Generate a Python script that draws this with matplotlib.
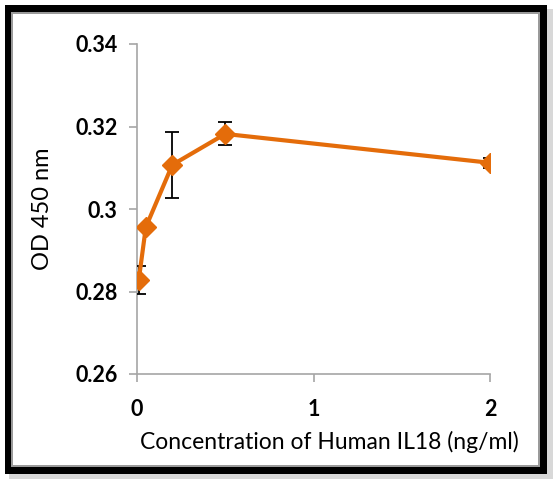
import matplotlib
matplotlib.use("Agg")
import matplotlib.pyplot as plt
from matplotlib.patches import Rectangle

conc = [0.01, 0.05, 0.2, 0.5, 2.0]
od = [0.2828, 0.2956, 0.3107, 0.3182, 0.3112]
od_err = [0.0035, 0.0, 0.0080, 0.0028, 0.0012]
y_ticks = [0.26, 0.28, 0.30, 0.32, 0.34]
y_tick_labels = ["0.26", "0.28", "0.3", "0.32", "0.34"]
x_ticks = [0, 1, 2]

ORANGE = "#E46C0A"

plt.rcParams["font.family"] = ["Lato", "DejaVu Sans"]

fig = plt.figure(figsize=(5.57, 4.82), dpi=100)
W, H = 557, 482


def px_rect(x0, y0, x1, y1, **kw):
    # rectangle in pixel coords (top-left origin)
    return Rectangle((x0 / W, 1 - y1 / H), (x1 - x0) / W, (y1 - y0) / H,
                     transform=fig.transFigure, **kw)


# frame: soft shadow, thick black border, thin gray inner line
fig.patches.append(px_rect(9, 9, 553, 479, facecolor="#d8d8d8", edgecolor="none", zorder=0))
fig.patches.append(px_rect(5, 5, 547, 474, facecolor="black", edgecolor="none", zorder=1))
fig.patches.append(px_rect(11, 12, 540, 467, facecolor="#9a9a9a", edgecolor="none", zorder=2))
fig.patches.append(px_rect(13, 14, 538, 465, facecolor="white", edgecolor="none", zorder=3))

ax = fig.add_axes([137 / W, 1 - 374 / H, (490 - 137) / W, (374 - 44) / H])
ax.set_zorder(5)
ax.patch.set_alpha(0)

ax.errorbar(conc, od, yerr=od_err, color=ORANGE, lw=3, marker="D", ms=10.5,
            mfc=ORANGE, mec=ORANGE, ecolor="black", elinewidth=1.3,
            capsize=5, capthick=1.3, zorder=3)

ax.set_xlim(0, 2)
ax.set_ylim(0.26, 0.34)
ax.set_xticks(x_ticks)
ax.set_xticklabels([str(t) for t in x_ticks])
ax.set_yticks(y_ticks)
ax.set_yticklabels(y_tick_labels)

for side in ["top", "right"]:
    ax.spines[side].set_visible(False)
for side in ["left", "bottom"]:
    ax.spines[side].set_color("#a6a6a6")
    ax.spines[side].set_linewidth(1.2)

ax.tick_params(axis="both", direction="out", length=6, width=1.2, color="#a6a6a6",
               labelsize=15.5, pad=8)
ax.tick_params(axis="x", pad=12)
for lab in ax.get_xticklabels() + ax.get_yticklabels():
    lab.set_fontweight("bold")

ax.set_xlabel("Concentration of Human IL18 (ng/ml)", fontsize=16.5, labelpad=8)
ax.xaxis.label.set_x(0.545)
ax.set_ylabel("OD 450 nm", fontsize=17, labelpad=16)

fig.savefig("out.png", dpi=100)
